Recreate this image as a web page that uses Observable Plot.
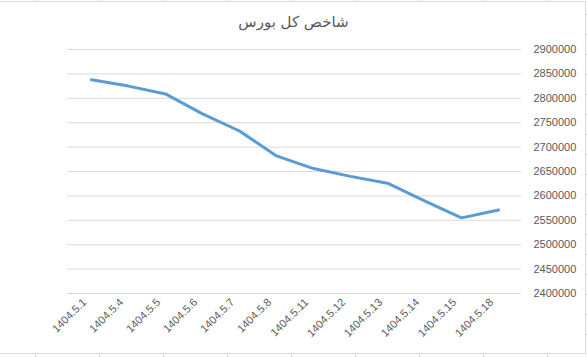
<!DOCTYPE html>
<html>
<head>
<meta charset="utf-8">
<script src="https://cdn.jsdelivr.net/npm/d3@7"></script>
<script src="https://cdn.jsdelivr.net/npm/@observablehq/plot@0.6"></script>
<style>
  html, body { margin: 0; padding: 0; background: #fff; width: 587px; height: 357px; overflow: hidden; }
  #frame { position: absolute; left: -1px; top: 1px; width: 585px; height: 351px; border: 1px solid #d9d9d9; background: #fff; }
  .stub { position: absolute; background: #d9d9d9; }
  #title { position: absolute; left: 0; top: 0; width: 587px; height: 40px; line-height: 44px; text-align: center;
           font-family: "DejaVu Sans", sans-serif; font-size: 15px; color: #595959; direction: rtl; }
  #chart { position: absolute; left: 0; top: 40px; }
</style>
</head>
<body>
<div id="frame"></div>
<div id="title">شاخص کل بورس</div>
<div id="chart"></div>
<script>
const dates = ["1404.5.1", "1404.5.4", "1404.5.5", "1404.5.6", "1404.5.7", "1404.5.8",
               "1404.5.11", "1404.5.12", "1404.5.13", "1404.5.14", "1404.5.15", "1404.5.18"];
const values = [2838000, 2825000, 2809000, 2768000, 2733000, 2682000,
                2656000, 2640000, 2626000, 2590000, 2555000, 2571000];
const yTicks = [2400000, 2450000, 2500000, 2550000, 2600000, 2650000,
                2700000, 2750000, 2800000, 2850000, 2900000];

// spreadsheet cell-border stubs outside the chart frame
const body = document.body;
function stub(l, t, w, h) {
  const d = document.createElement("div");
  d.className = "stub";
  d.style.left = l + "px"; d.style.top = t + "px"; d.style.width = w + "px"; d.style.height = h + "px";
  body.appendChild(d);
}
for (let x = 35; x < 587; x += 64) { stub(x, 0, 1, 1); stub(x, 354, 1, 3); }
for (let y = 14; y < 352; y += 20) { stub(585, y, 2, 1); }

const data = dates.map((d, i) => ({date: d, value: values[i]}));

const chart = Plot.plot({
  width: 587,
  height: 313,
  marginLeft: 67,
  marginRight: 66,
  marginTop: 9,
  marginBottom: 60,
  style: {fontFamily: "'Liberation Sans', Arial, sans-serif", fontSize: "11px", color: "#595959", background: "transparent"},
  x: {type: "point", domain: dates, padding: 0.5},
  y: {domain: [2400000, 2900000]},
  marks: [
    Plot.gridY(yTicks, {stroke: "#d9d9d9", strokeOpacity: 1, strokeWidth: 1}),
    Plot.axisY(yTicks, {anchor: "right", tickSize: 0, tickPadding: 12, tickFormat: d3.format("d"), fill: "#595959", label: null}),
    Plot.axisX({anchor: "bottom", tickSize: 0, tickPadding: 6, tickRotate: -45, dx: -7, dy: 1, fill: "#595959", label: null}),
    Plot.line(data, {x: "date", y: "value", stroke: "#5B9BD5", strokeWidth: 3, strokeLinejoin: "round", strokeLinecap: "round"})
  ]
});
document.getElementById("chart").appendChild(chart);
</script>
</body>
</html>
